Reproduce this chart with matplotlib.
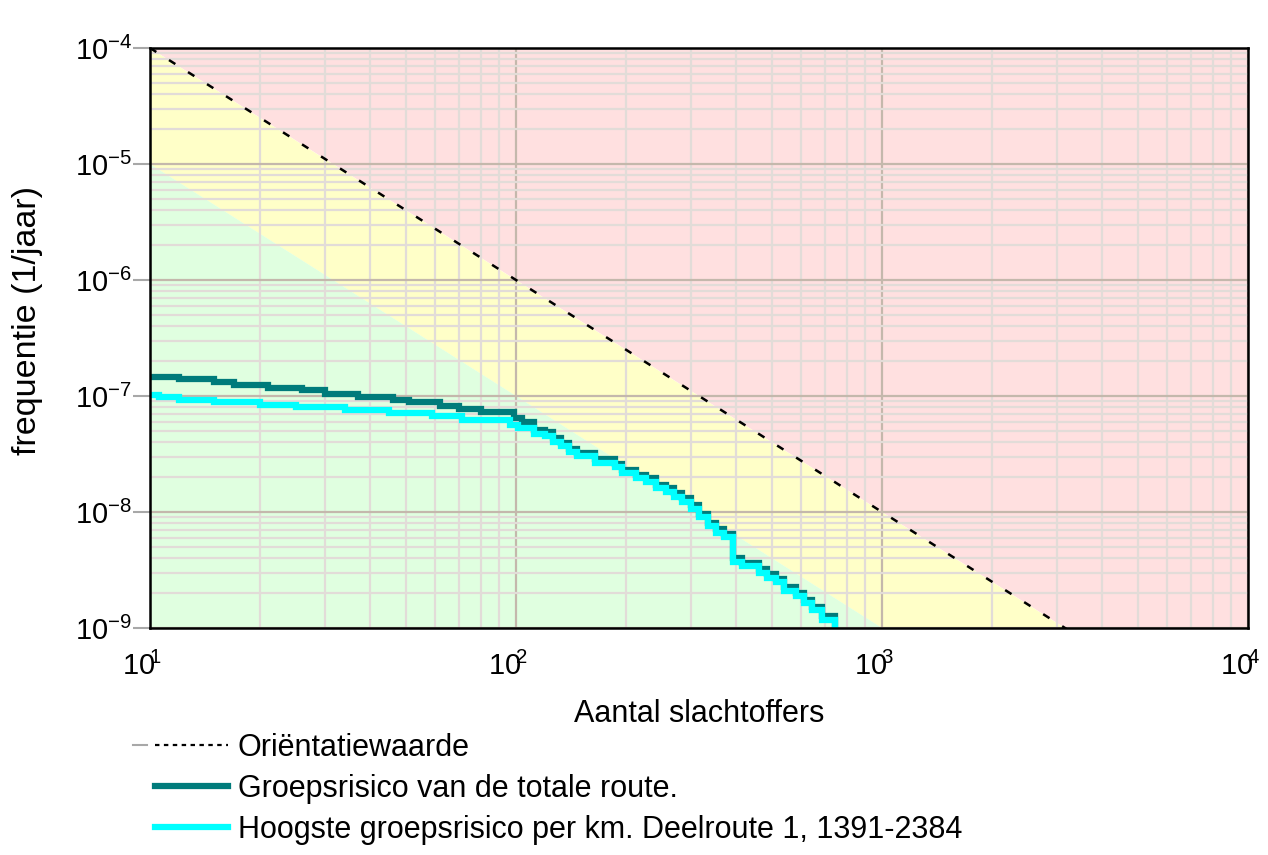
import matplotlib
matplotlib.use('Agg')
import matplotlib.pyplot as plt
from matplotlib.lines import Line2D
from matplotlib.ticker import FixedLocator, LogLocator, NullFormatter
from matplotlib.transforms import ScaledTranslation
import numpy as np

# norm line (orientatiewaarde) and the lower boundary of the green zone
norm_N = [10, 10000]
norm_F = [1e-4, 1e-10]
green_N = [10, 10000]
green_F = [1e-5, 1e-11]

# groepsrisico van de totale route (step starts, last value = end of curve)
total_N = [10, 12, 15, 17, 21, 26, 30, 37, 46, 51, 62, 70, 80, 99, 104,
           112, 120, 126, 133, 140, 147, 164, 186, 195, 213,
           227, 242, 257, 271, 285, 301, 317, 335, 352, 371,
           392, 415, 462, 486, 514, 540, 582, 612, 644, 686, 745]
total_F = [1.46e-7, 1.39e-7, 1.32e-7, 1.24e-7, 1.18e-7, 1.12e-7, 1.05e-7, 9.9e-8,
           9.3e-8, 8.8e-8, 8.2e-8, 7.7e-8, 7.3e-8, 6.5e-8, 6.0e-8,
           5.1e-8, 4.9e-8, 4.35e-8, 3.9e-8, 3.5e-8, 3.2e-8, 2.85e-8, 2.6e-8, 2.3e-8, 2.1e-8,
           1.95e-8, 1.7e-8, 1.6e-8, 1.45e-8, 1.32e-8, 1.15e-8, 9.6e-9, 8.0e-9, 7.1e-9, 6.45e-9,
           4.0e-9, 3.6e-9, 3.2e-9, 2.9e-9, 2.65e-9, 2.25e-9, 2.0e-9, 1.75e-9, 1.52e-9, 1.26e-9]

# hoogste groepsrisico per km, deelroute 1
km_N = [10, 10.6, 12, 15, 20, 25, 34, 45, 59, 71, 96, 101,
        112, 120, 126, 133, 140, 147, 164, 186, 195, 213,
        227, 242, 257, 271, 285, 301, 317, 335, 352, 371,
        392, 415, 462, 486, 514, 540, 582, 612, 644, 686, 745]
km_F = [1.03e-7, 9.8e-8, 9.3e-8, 8.9e-8, 8.3e-8, 8.0e-8, 7.5e-8, 7.1e-8, 6.7e-8, 6.2e-8, 5.6e-8, 5.25e-8,
        4.75e-8, 4.56e-8, 4.05e-8, 3.67e-8, 3.26e-8, 3.01e-8, 2.67e-8, 2.42e-8, 2.15e-8, 1.98e-8,
        1.83e-8, 1.60e-8, 1.50e-8, 1.36e-8, 1.23e-8, 1.07e-8, 8.97e-9, 7.5e-9, 6.65e-9, 6.03e-9,
        3.74e-9, 3.39e-9, 3.0e-9, 2.72e-9, 2.47e-9, 2.1e-9, 1.87e-9, 1.63e-9, 1.42e-9, 1.18e-9]

x_ticks = [10, 100, 1000, 10000]
# exponent printed over the top-right of the "0", like the original
x_labels = [r'$10^{\!\!1}$', r'$10^{\!\!2}$', r'$10^{\!\!3}$', r'$10^{\!\!4}$']
y_ticks = [1e-9, 1e-8, 1e-7, 1e-6, 1e-5, 1e-4]
y_labels = [r'$10^{-9}$', r'$10^{-8}$', r'$10^{-7}$', r'$10^{-6}$', r'$10^{-5}$', r'$10^{-4}$']

legend_labels = ['Oriëntatiewaarde', 'Groepsrisico van de totale route.',
                 'Hoogste groepsrisico per km. Deelroute 1, 1391-2384']

plt.rcParams['font.family'] = ['Liberation Sans', 'DejaVu Sans']
plt.rcParams['mathtext.fontset'] = 'custom'
plt.rcParams['mathtext.rm'] = 'Liberation Sans'
plt.rcParams['mathtext.it'] = 'Liberation Sans:italic'
plt.rcParams['mathtext.bf'] = 'Liberation Sans:bold'


def steps(N, F):
    xs = [N[0]]
    ys = [F[0]]
    for i in range(1, len(N)):
        xs += [N[i], N[i]]
        ys += [F[i - 1], F[i] if i < len(F) else 1e-12]
    return xs, ys


fig = plt.figure(figsize=(12.68, 8.55), dpi=100)
ax = fig.add_axes([150 / 1268, 1 - 628 / 855, 1098 / 1268, 580 / 855])
ax.set_xscale('log')
ax.set_yscale('log')

ax.fill_between(norm_N, norm_F, 1e-2, color='#ffe0e0', lw=0)
ax.fill_between(norm_N, green_F, norm_F, color='#ffffc8', lw=0)
ax.fill_between(green_N, 1e-13, green_F, color='#e0ffe0', lw=0)

ax.xaxis.set_major_locator(FixedLocator(x_ticks))
ax.xaxis.set_minor_locator(LogLocator(base=10, subs=np.arange(2, 10)))
ax.yaxis.set_major_locator(FixedLocator(y_ticks))
ax.yaxis.set_minor_locator(LogLocator(base=10, subs=np.arange(2, 10), numticks=20))
ax.xaxis.set_minor_formatter(NullFormatter())
ax.yaxis.set_minor_formatter(NullFormatter())
ax.set_xticklabels(x_labels)
ax.set_yticklabels(y_labels)

ax.grid(which='minor', color='#e2dcd8', lw=1.6)
ax.grid(which='major', color='#c4b8ac', lw=1.6)

ax.plot(norm_N, norm_F, color='black', lw=1.8, linestyle=(0, (3, 6)), zorder=3)

xs, ys = steps(total_N, total_F)
ax.plot(xs, ys, color='#007b7b', lw=4.5, solid_joinstyle='miter', solid_capstyle='butt', zorder=4)
xs, ys = steps(km_N, km_F)
ax.plot(xs, ys, color='#00ffff', lw=4.5, solid_joinstyle='miter', solid_capstyle='butt', zorder=5)

ax.set_xlim(10, 1e4)
ax.set_ylim(1e-9, 1e-4)

for s in ax.spines.values():
    s.set_linewidth(1.8)
    s.set_color('black')
    s.set_zorder(6)

ax.tick_params(axis='y', which='major', length=12, width=1.5, color='#a8a8a8', pad=1, labelsize=21)
ax.tick_params(axis='x', which='major', length=0, pad=17, labelsize=21)
ax.tick_params(which='minor', length=0)

shift = ScaledTranslation(-8 / 100, 0, fig.dpi_scale_trans)
for lab in ax.get_xticklabels():
    lab.set_transform(lab.get_transform() + shift)

ax.set_xlabel('Aantal slachtoffers', fontsize=22)
ax.xaxis.set_label_coords(0.5, -0.123)
ax.set_ylabel('frequentie (1/jaar)', fontsize=24.5)
ax.yaxis.set_label_coords(-0.097, 0.53)

handles = [Line2D([], [], color='black', lw=1.6, linestyle=(0, (2, 2))),
           Line2D([], [], color='#007b7b', lw=4.5),
           Line2D([], [], color='#00ffff', lw=4.5)]
fig.legend(handles, legend_labels, loc='upper left', bbox_to_anchor=(155 / 1268, 1 - 733 / 855),
           frameon=False, fontsize=22, handlelength=2.4, handletextpad=0.3,
           labelspacing=0.36, borderpad=0, borderaxespad=0)
# small grey stub left of the first legend entry
fig.add_artist(Line2D([133 / 1268, 147 / 1268], [1 - 745 / 855, 1 - 745 / 855],
                      color='#a8a8a8', lw=1.5))

fig.savefig('out.png', dpi=100)
